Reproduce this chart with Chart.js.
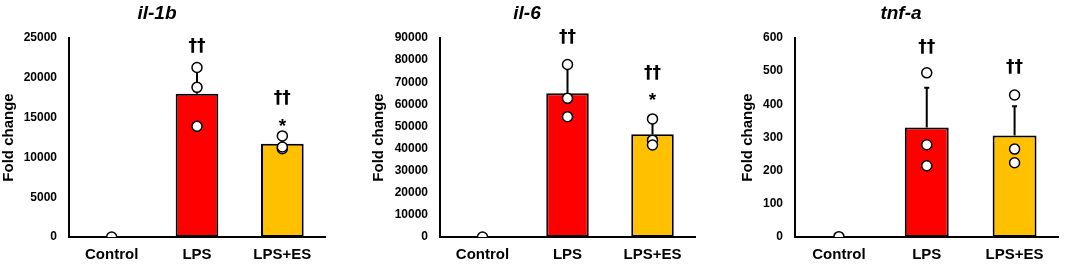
<!DOCTYPE html>
<html>
<head>
<meta charset="utf-8">
<script src="https://cdn.jsdelivr.net/npm/chart.js@4.4.0/dist/chart.umd.min.js"></script>
<style>
  body { margin: 0; background: #fff; width: 1065px; height: 267px; position: relative; overflow: hidden; }
  canvas { position: absolute; top: 0; }
</style>
</head>
<body>
<canvas id="il1b" width="350" height="267" style="left:0px"></canvas>
<canvas id="il6" width="345" height="267" style="left:370px"></canvas>
<canvas id="tnfa" width="326" height="267" style="left:739px"></canvas>
<script>
const categories = ['Control', 'LPS', 'LPS+ES'];
const barColors = ['#ffffff', '#ff0000', '#ffc000'];

// il-1b
const il1bMeans = [1, 18000, 11700];
const il1bSd = [0, 3400, 700];
const il1bPoints = [[1], [21300, 18800, 13900], [12700, 11100, 11300]];
const il1bDaggerAt = [null, 23900, 17450];
const il1bStarAt = [null, null, 13900];

// il-6
const il6Means = [1, 65000, 46500];
const il6Sd = [0, 12000, 6000];
const il6Points = [[1], [78000, 62700, 54400], [53400, 43800, 41600]];
const il6DaggerAt = [null, 90000, 73700];
const il6StarAt = [null, null, 61500];

// tnf-a
const tnfaMeans = [1, 330, 306];
const tnfaSd = [0, 120, 88];
const tnfaPoints = [[1], [495, 278, 215], [428, 265, 224]];
const tnfaDaggerAt = [null, 570, 511];
const tnfaStarAt = [null, null, null];

const FONT = '"Liberation Sans", Arial, sans-serif';

const marksPlugin = {
  id: 'marks',
  afterDatasetDraw(chart, args, opts) {
    if (args.index !== 0) return;
    const ctx = chart.ctx, x = chart.scales.x, y = chart.scales.y;
    ctx.save();
    ctx.strokeStyle = '#000';
    ctx.lineWidth = 2;
    opts.means.forEach((m, i) => {
      if (!opts.sd[i]) return;
      const px = x.getPixelForValue(i);
      const top = y.getPixelForValue(m + opts.sd[i]);
      ctx.beginPath();
      ctx.moveTo(px, y.getPixelForValue(m));
      ctx.lineTo(px, top);
      ctx.moveTo(px - 2.5, top);
      ctx.lineTo(px + 2.5, top);
      ctx.stroke();
    });
    ctx.restore();
  },
  afterDraw(chart, args, opts) {
    const ctx = chart.ctx, x = chart.scales.x, y = chart.scales.y;
    ctx.save();
    ctx.fillStyle = '#000';
    ctx.textAlign = 'center';
    ctx.textBaseline = 'middle';
    ctx.font = 'italic bold 19px ' + FONT;
    ctx.fillText(opts.title, opts.titleX, 13.5);
    ctx.font = 'bold 17px "DejaVu Sans", sans-serif';
    opts.dagger.forEach((v, i) => {
      if (v != null) ctx.fillText('††', x.getPixelForValue(i), y.getPixelForValue(v));
    });
    ctx.font = 'bold 19px ' + FONT;
    opts.star.forEach((v, i) => {
      if (v != null) ctx.fillText('*', x.getPixelForValue(i), y.getPixelForValue(v));
    });
    ctx.restore();
  }
};

function makePanel(id, p) {
  const pts = p.points.flatMap((arr, i) => arr.map(v => ({ x: categories[i], y: v })));
  return new Chart(document.getElementById(id), {
    type: 'bar',
    data: {
      labels: categories,
      datasets: [{
        order: 2,
        data: p.means,
        backgroundColor: barColors,
        borderColor: '#000',
        borderWidth: 2,
        borderSkipped: false,
        categoryPercentage: 1,
        barPercentage: 0.5
      }, {
        order: 1,
        type: 'line',
        data: pts,
        showLine: false,
        pointRadius: 5,
        pointBackgroundColor: '#fff',
        pointBorderColor: '#000',
        pointBorderWidth: 1.5
      }]
    },
    options: {
      responsive: false,
      animation: false,
      devicePixelRatio: 1,
      layout: { padding: { top: 38, right: p.rightPad, bottom: 0, left: 0 } },
      plugins: {
        legend: { display: false },
        tooltip: { enabled: false },
        marks: {
          title: p.title, titleX: p.titleX, means: p.means, sd: p.sd,
          dagger: p.dagger, star: p.star
        }
      },
      scales: {
        x: {
          type: 'category',
          offset: true,
          grid: { display: false, drawTicks: false },
          border: { display: true, color: '#000', width: 2 },
          ticks: { color: '#000', font: { family: FONT, size: 15, weight: 'bold' }, padding: 9, maxRotation: 0 },
          afterFit(s) { s.height = 30; }
        },
        y: {
          min: 0,
          max: p.max,
          grid: { display: false, drawTicks: false },
          border: { display: true, color: '#000', width: 2 },
          ticks: {
            stepSize: p.step, color: '#000', padding: 12,
            font: { family: FONT, size: 12, weight: 'bold' },
            callback: v => String(v)
          },
          title: {
            display: true, text: 'Fold change', color: '#000', padding: 0,
            font: { family: FONT, size: 15, weight: 'bold' }
          },
          afterFit(s) { s.width = p.yWidth; }
        }
      }
    },
    plugins: [marksPlugin]
  });
}

makePanel('il1b', {
  title: 'il-1b', titleX: 157, means: il1bMeans, sd: il1bSd, points: il1bPoints,
  dagger: il1bDaggerAt, star: il1bStarAt, max: 25000, step: 5000, yWidth: 69, rightPad: 25
});
makePanel('il6', {
  title: 'il-6', titleX: 157, means: il6Means, sd: il6Sd, points: il6Points,
  dagger: il6DaggerAt, star: il6StarAt, max: 90000, step: 10000, yWidth: 70, rightPad: 20
});
makePanel('tnfa', {
  title: 'tnf-a', titleX: 162, means: tnfaMeans, sd: tnfaSd, points: tnfaPoints,
  dagger: tnfaDaggerAt, star: tnfaStarAt, max: 600, step: 100, yWidth: 56, rightPad: 2
});
</script>
</body>
</html>
